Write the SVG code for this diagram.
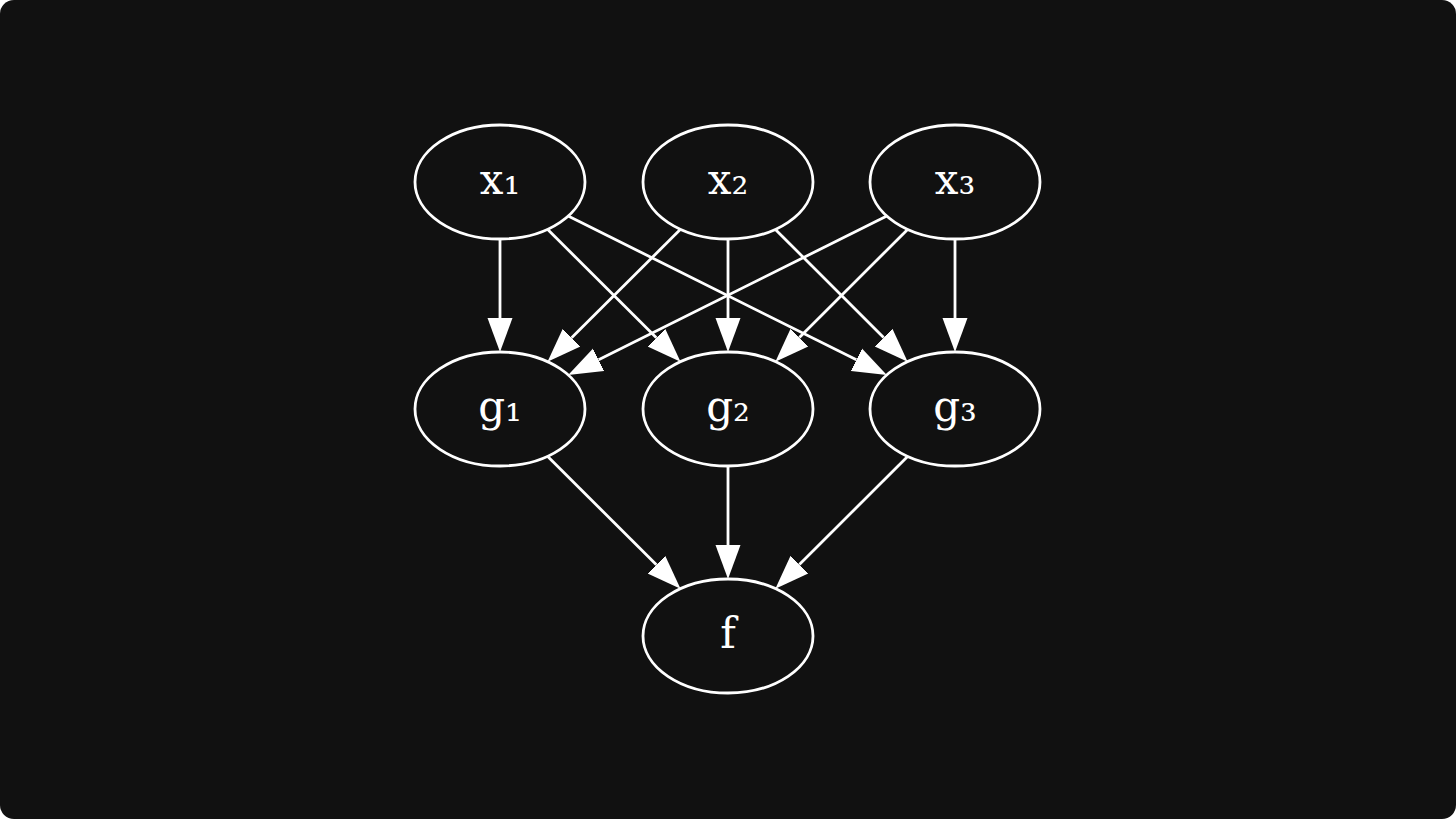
<svg xmlns="http://www.w3.org/2000/svg" width="1456" height="819" viewBox="0 0 1456 819">
<style>
.node ellipse{fill:none;stroke:#ffffff;stroke-width:2.8}
.node text{fill:#ffffff;font-family:"DejaVu Serif","Liberation Serif",serif;font-size:42px;text-anchor:middle}
#edges line{stroke:#ffffff;stroke-width:2.8;marker-end:url(#ah)}
</style>
<defs>
<marker id="ah" markerUnits="userSpaceOnUse" markerWidth="36" markerHeight="28" viewBox="0 -13 36 26" refX="0" refY="0" orient="auto">
<path d="M0,-12.5 L34,0 L0,12.5 Z" fill="#ffffff"/>
</marker>
</defs>
<rect x="0" y="0" width="1456" height="819" fill="#ffffff"/>
<rect x="0" y="0" width="1456" height="819" rx="14" ry="14" fill="#111111"/>
<g id="edges">
<line x1="500" y1="239" x2="500" y2="318"/>
<line x1="547.5" y1="229.3" x2="656.4" y2="337.7"/>
<line x1="568.2" y1="216" x2="856.4" y2="359.8"/>
<line x1="680.5" y1="229.3" x2="571.6" y2="337.7"/>
<line x1="728" y1="239" x2="728" y2="318"/>
<line x1="775.4" y1="229.4" x2="883.6" y2="337.6"/>
<line x1="886.8" y1="216" x2="598.6" y2="359.8"/>
<line x1="907.6" y1="229.4" x2="799.4" y2="337.6"/>
<line x1="955" y1="239" x2="955" y2="318"/>
<line x1="547.5" y1="456.3" x2="656.4" y2="564.7"/>
<line x1="728" y1="466" x2="728" y2="545"/>
<line x1="907.6" y1="456.4" x2="799.4" y2="564.6"/>
</g>
<g id="x1" class="node"><ellipse cx="500" cy="182" rx="85" ry="57"/><text x="500" y="194">x₁</text></g>
<g id="x2" class="node"><ellipse cx="728" cy="182" rx="85" ry="57"/><text x="728" y="194">x₂</text></g>
<g id="x3" class="node"><ellipse cx="955" cy="182" rx="85" ry="57"/><text x="955" y="194">x₃</text></g>
<g id="g1" class="node"><ellipse cx="500" cy="409" rx="85" ry="57"/><text x="500" y="421">g₁</text></g>
<g id="g2" class="node"><ellipse cx="728" cy="409" rx="85" ry="57"/><text x="728" y="421">g₂</text></g>
<g id="g3" class="node"><ellipse cx="955" cy="409" rx="85" ry="57"/><text x="955" y="421">g₃</text></g>
<g id="f" class="node"><ellipse cx="728" cy="636" rx="85" ry="57"/><text x="728" y="648">f</text></g>
</svg>
